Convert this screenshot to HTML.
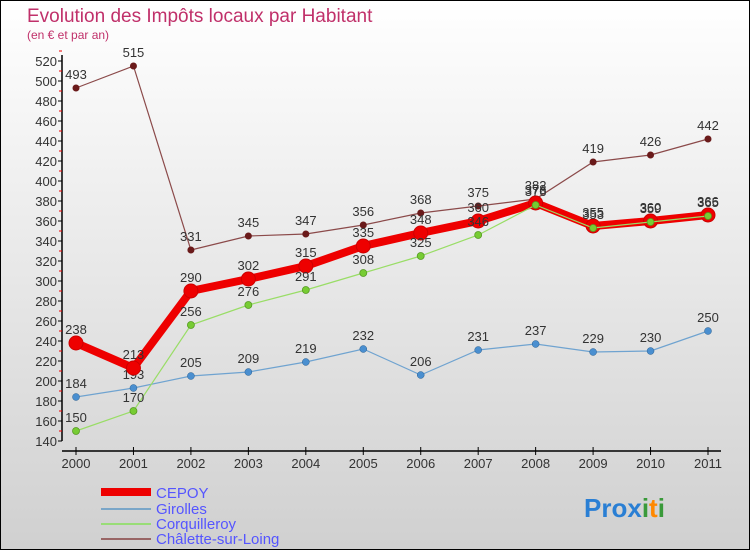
<!DOCTYPE html>
<html><head><meta charset="utf-8"><style>
body{margin:0;}
#c{width:748px;height:548px;border:1px solid #000;background:linear-gradient(#ffffff,#d0d0d0);position:relative;overflow:hidden;font-family:"Liberation Sans",sans-serif;}
</style></head><body>
<div id="c">
<svg id="s" width="748" height="548" xmlns="http://www.w3.org/2000/svg" font-family="Liberation Sans, sans-serif">
<text x="26" y="21" font-size="19" fill="#c0306a">Evolution des Impôts locaux par Habitant</text>
<text x="26" y="38" font-size="12" fill="#c0306a">(en € et par an)</text>
<g id="axes"></g><g id="series"></g>
<g>
<rect x="100" y="487" width="50" height="8" fill="#ee0000"/>
<rect x="100" y="507" width="50" height="2" fill="#7aa6c8"/>
<rect x="100" y="522" width="50" height="2" fill="#99dd77"/>
<rect x="100" y="537" width="50" height="2" fill="#996666"/>
<text x="155" y="497" font-size="15" fill="#5555ff">CEPOY</text>
<text x="155" y="513" font-size="15" fill="#5555ff">Girolles</text>
<text x="155" y="528" font-size="15" fill="#5555ff">Corquilleroy</text>
<text x="155" y="543" font-size="15" fill="#5555ff">Châlette-sur-Loing</text>
</g>
<text x="583" y="516" font-size="26" font-weight="bold"><tspan fill="#2a7fd4">Pro</tspan><tspan fill="#2a7fd4">x</tspan><tspan fill="#3a9a3a">i</tspan><tspan fill="#ff8800">t</tspan><tspan fill="#3a9a3a">i</tspan></text>
</svg></div>
<script>
const years=["2000","2001","2002","2003","2004","2005","2006","2007","2008","2009","2010","2011"];
const cepoy=[238,213,290,302,315,335,348,360,378,355,360,366];
const girolles=[184,193,205,209,219,232,206,231,237,229,230,250];
const corquilleroy=[150,170,256,276,291,308,325,346,376,353,359,365];
const chalette=[493,515,331,345,347,356,368,375,382,419,426,442];
const yTicks=[140,160,180,200,220,240,260,280,300,320,340,360,380,400,420,440,460,480,500,520];
const NS="http://www.w3.org/2000/svg";
const X=i=>75+i*(707-75)/11;
const Y=v=>440-(v-140)*1.0;
function mk(t,a,p){const e=document.createElementNS(NS,t);for(const k in a)e.setAttribute(k,a[k]);p.appendChild(e);return e;}
const ax=document.getElementById('axes'),sg=document.getElementById('series');
const yl=mk('line',{x1:61,y1:54,x2:61,y2:440,stroke:'#000','stroke-width':1.5},ax);


yTicks.forEach(v=>{
 mk('line',{x1:57,y1:Y(v),x2:61,y2:Y(v),stroke:'#000'},ax);
 mk('line',{x1:58,y1:Y(v+10),x2:61,y2:Y(v+10),stroke:'#e00'},ax);
 const t=mk('text',{x:56,y:Y(v)+5,'font-size':13,'text-anchor':'end',fill:'#333'},ax);t.textContent=v;
 
 
});
const xl=mk('line',{x1:61,y1:450,x2:720,y2:450,stroke:'#000','stroke-width':1.5},ax);


years.forEach((y,i)=>{
 mk('line',{x1:X(i),y1:446,x2:X(i),y2:454,stroke:'#000'},ax);
 const t=mk('text',{x:X(i),y:467,'font-size':13,'text-anchor':'middle',fill:'#333'},ax);t.textContent=y;
 
 
});
function series(d,name,col,w,r,fill,stroke,sw){
 const g=mk('g',{},sg);
 
 
 mk('polyline',{points:d.map((v,i)=>X(i)+','+Y(v)).join(' '),fill:'none',stroke:col,'stroke-width':w},g);
 d.forEach((v,i)=>{
  const c=mk('circle',{cx:X(i),cy:Y(v),r:r,fill:fill,stroke:stroke,'stroke-width':sw},g);
  
  
  const t=mk('text',{x:X(i),y:Y(v)-9,'font-size':13,'text-anchor':'middle',fill:'#333'},g);t.textContent=v;
  
  
 });
}
series(chalette,'chalette','#8b4a4a',1.2,3.5,'#6a1a1a','none',0);
series(girolles,'girolles','#6fa3d0',1.2,3.5,'#4a8fd0','#2a5f90',0.5);
series(cepoy,'cepoy','#ee0000',8,7,'#ee0000','#cc0000',1);
series(corquilleroy,'corquilleroy','#99dd66',1.2,3.5,'#77cc33','#559922',0.8);
</script>
</body></html>
